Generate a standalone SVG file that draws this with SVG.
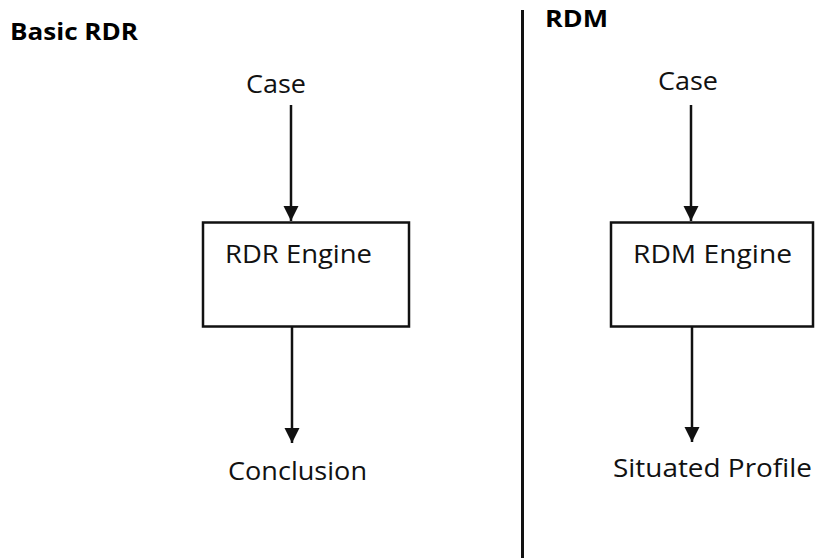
<svg xmlns="http://www.w3.org/2000/svg" width="815" height="558" viewBox="0 0 815 558">
  <style>
    .label { font-family: "Open Sans", "Noto Sans", "Liberation Sans", sans-serif; font-size: 25px; fill: #111; }
    .title { font-family: "Open Sans", "Noto Sans", "Liberation Sans", sans-serif; font-size: 24px; font-weight: bold; fill: #000; }
    .box { fill: #fff; stroke: #111; stroke-width: 2.5; }
    .edge { stroke: #111; stroke-width: 2.5; fill: none; marker-end: url(#arrow); }
    .divider { stroke: #111; stroke-width: 3; }
  </style>
  <defs>
    <marker id="arrow" markerUnits="userSpaceOnUse" markerWidth="16" markerHeight="16" viewBox="0 0 16 16" refX="15" refY="8" orient="auto">
      <path d="M0,0.5 L15,8 L0,15.5 Z" fill="#111"/>
    </marker>
  </defs>
  <rect width="815" height="558" fill="#fff"/>

  <!-- section titles and divider -->
  <text class="title" x="10" y="40" textLength="128" lengthAdjust="spacingAndGlyphs">Basic RDR</text>
  <text class="title" x="545" y="27" textLength="63" lengthAdjust="spacingAndGlyphs">RDM</text>
  <line class="divider" x1="522.5" y1="10" x2="522.5" y2="558"/>

  <!-- connectors -->
  <g id="connectors">
    <line class="edge" x1="291" y1="105" x2="291" y2="221"/>
    <line class="edge" x1="292" y1="327" x2="292" y2="443"/>
    <line class="edge" x1="691" y1="105" x2="691" y2="221"/>
    <line class="edge" x1="692" y1="327" x2="692" y2="442"/>
  </g>

  <!-- Basic RDR flow -->
  <g id="case-rdr">
    <text class="label" x="246" y="93" textLength="60" lengthAdjust="spacingAndGlyphs">Case</text>
  </g>
  <g id="rdr-engine">
    <rect class="box" x="203" y="222.5" width="206" height="104"/>
    <text class="label" x="225" y="263" textLength="147" lengthAdjust="spacingAndGlyphs">RDR Engine</text>
  </g>
  <g id="conclusion">
    <text class="label" x="228" y="480" textLength="139" lengthAdjust="spacingAndGlyphs">Conclusion</text>
  </g>

  <!-- RDM flow -->
  <g id="case-rdm">
    <text class="label" x="658" y="90" textLength="60" lengthAdjust="spacingAndGlyphs">Case</text>
  </g>
  <g id="rdm-engine">
    <rect class="box" x="611" y="222.5" width="202" height="104"/>
    <text class="label" x="633" y="263" textLength="159" lengthAdjust="spacingAndGlyphs">RDM Engine</text>
  </g>
  <g id="situated-profile">
    <text class="label" x="613" y="477" textLength="199" lengthAdjust="spacingAndGlyphs">Situated Profile</text>
  </g>
</svg>
